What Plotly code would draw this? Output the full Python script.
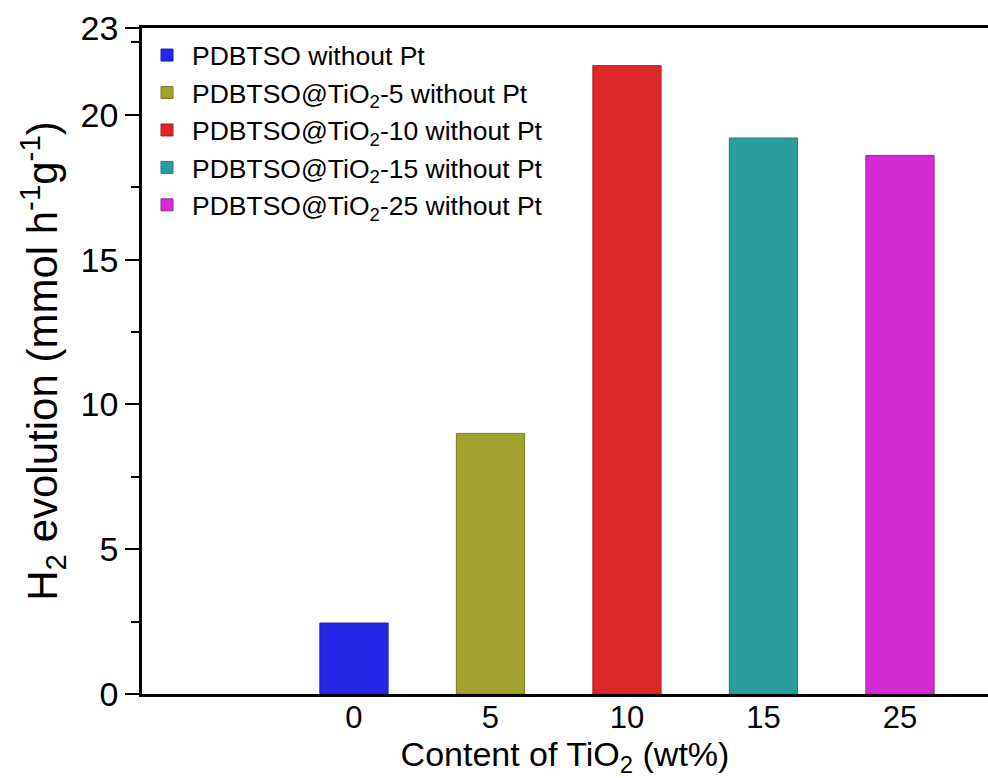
import plotly.graph_objects as go

categories = ["0", "5", "10", "15", "25"]
values = [2.45, 9.0, 21.7, 19.2, 18.6]
names = [
    "PDBTSO without Pt",
    "PDBTSO@TiO<sub>2</sub>-5 without Pt",
    "PDBTSO@TiO<sub>2</sub>-10 without Pt",
    "PDBTSO@TiO<sub>2</sub>-15 without Pt",
    "PDBTSO@TiO<sub>2</sub>-25 without Pt",
]
colors = ["#2626e6", "#a2a22e", "#dc2828", "#2a9e9e", "#d42ad4"]
edge_colors = ["#1e1ea8", "#7a7a1e", "#a82020", "#1f7a7a", "#a020a0"]
y_ticks = [0, 5, 10, 15, 20, 23]

FONT = "Liberation Sans, Arial, sans-serif"

fig = go.Figure()
for cat, val, name, col, ec in zip(categories, values, names, colors, edge_colors):
    fig.add_trace(go.Bar(
        x=[cat], y=[val], name=name, width=0.5,
        marker=dict(color=col, line=dict(color=ec, width=1)),
    ))

fig.update_layout(
    width=988, height=778,
    margin=dict(l=142, r=0, t=28, b=84),
    paper_bgcolor="white", plot_bgcolor="white",
    barmode="overlay",
    font=dict(family=FONT, color="black"),
    showlegend=True,
    legend=dict(
        x=0.0, y=0.995, xanchor="left", yanchor="top",
        bgcolor="rgba(0,0,0,0)", font=dict(size=26.5, family=FONT),
        itemwidth=40, tracegroupgap=0,
    ),
    xaxis=dict(
        type="category", categoryorder="array", categoryarray=categories,
        range=[-1.553, 4.645],
        showline=True, linecolor="black", linewidth=2.5, mirror=True,
        ticks="", showgrid=False, zeroline=False,
        tickfont=dict(size=31, family=FONT),
        ticklabelstandoff=-6,
        title=dict(text="Content of TiO<sub>2</sub> (wt%)", font=dict(size=34, family=FONT), standoff=0),
    ),
    yaxis=dict(
        range=[0, 23], tickvals=y_ticks,
        showline=True, linecolor="black", linewidth=2.5, mirror=False,
        ticks="outside", ticklen=14, tickwidth=2, tickcolor="black",
        minor=dict(dtick=2.5, tick0=0, ticks="outside", ticklen=8, tickwidth=2, tickcolor="black"),
        showgrid=False, zeroline=False,
        tickfont=dict(size=34, family=FONT),
        title=dict(text="H<sub>2</sub> evolution (mmol h<sup>-1</sup>g<sup>-1</sup>)", font=dict(size=42, family=FONT), standoff=10),
    ),
)

fig.write_html("out.html")
